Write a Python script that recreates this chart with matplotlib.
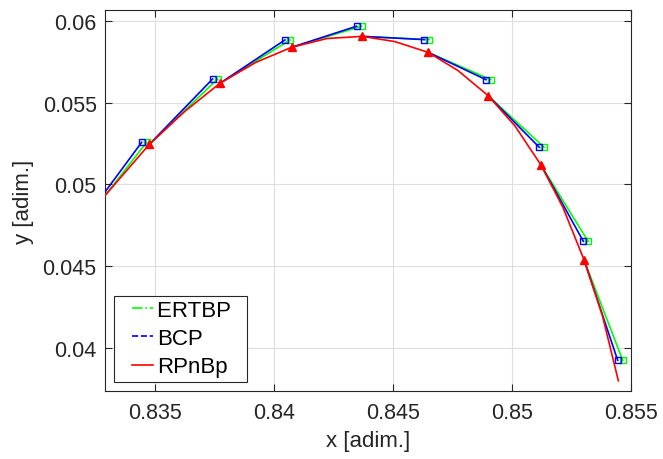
import matplotlib

matplotlib.use("Agg")
import numpy as np
from matplotlib import pyplot as plt
from matplotlib.legend_handler import HandlerLine2D
from matplotlib.lines import Line2D

# RPnBp reference trajectory (smooth curve); triangles sit on the odd indices
red_x = [0.83290, 0.83476, 0.83626, 0.83773, 0.83924, 0.84074, 0.84223, 0.84371, 0.84508,
         0.84648, 0.84773, 0.84900, 0.85013, 0.85121, 0.85214, 0.85303, 0.85380, 0.85447]
red_y = [0.04932, 0.05245, 0.05448, 0.05619, 0.05747, 0.05839, 0.05893, 0.05906, 0.05874,
         0.05808, 0.05697, 0.05543, 0.05357, 0.05121, 0.04860, 0.04538, 0.04198, 0.03799]

# patch points (triangles) where each BCP / ERTBP arc restarts
knot_x = [0.83476, 0.83773, 0.84074, 0.84371, 0.84648, 0.84900, 0.85121, 0.85303]
knot_y = [0.05245, 0.05619, 0.05839, 0.05906, 0.05808, 0.05543, 0.05121, 0.04538]

# arc end points
bcp_start = (0.83290, 0.04954)
bcp_x = [0.83444, 0.83742, 0.84046, 0.84347, 0.84632, 0.84891, 0.85115, 0.85300, 0.85444]
bcp_y = [0.05258, 0.05645, 0.05884, 0.05968, 0.05886, 0.05641, 0.05227, 0.04652, 0.03925]

ertbp_start = (0.83290, 0.04932)
ertbp_x = [0.83465, 0.83763, 0.84067, 0.84368, 0.84652, 0.84911, 0.85135, 0.85320, 0.85465]
ertbp_y = [0.05258, 0.05645, 0.05884, 0.05968, 0.05886, 0.05641, 0.05227, 0.04652, 0.03925]

x_ticks = [0.835, 0.84, 0.845, 0.85, 0.855]
x_tick_labels = ["0.835", "0.84", "0.845", "0.85", "0.855"]
y_ticks = [0.04, 0.045, 0.05, 0.055, 0.06]
y_tick_labels = ["0.04", "0.045", "0.05", "0.055", "0.06"]

TEXT = "#262626"


class ShortHandle(HandlerLine2D):
    # MATLAB-like legend: short line sitting at the right of the handle box
    def create_artists(self, legend, orig_handle, xdescent, ydescent, width, height,
                       fontsize, trans):
        artists = super().create_artists(legend, orig_handle, xdescent, ydescent,
                                         width, height, fontsize, trans)
        for a in artists:
            xd = np.asarray(a.get_xdata(), dtype=float)
            if len(xd) >= 2:
                x0 = xd[0] + 0.4 * (xd[-1] - xd[0])
                a.set_xdata(np.linspace(x0, xd[-1], len(xd)))
        return artists


def draw_arcs(ax, start, end_x, end_y, color):
    starts = [start] + list(zip(knot_x, knot_y))
    for (x0, y0), x1, y1 in zip(starts, end_x, end_y):
        ax.plot([x0, x1], [y0, y1], color=color, lw=1.2, zorder=3)
        ax.plot(x1, y1, marker="s", ms=4, mfc="none", mec=color, mew=1.0, zorder=4)


def main():
    plt.rcParams["font.family"] = ["Liberation Sans", "DejaVu Sans"]
    fig = plt.figure(figsize=(6.63, 4.60), dpi=100)
    ax = fig.add_axes([0.1584, 0.148, 0.7933, 0.828])

    draw_arcs(ax, ertbp_start, ertbp_x, ertbp_y, (0, 1, 0))
    draw_arcs(ax, bcp_start, bcp_x, bcp_y, (0, 0, 1))
    ax.plot(red_x, red_y, color=(1, 0, 0), lw=1.2, zorder=5,
            marker="^", ms=6, markevery=list(range(1, 16, 2)))

    ax.set_xlim(0.8329, 0.855)
    ax.set_ylim(0.03737, 0.06067)
    ax.set_xticks(x_ticks, x_tick_labels)
    ax.set_yticks(y_ticks, y_tick_labels)
    ax.tick_params(direction="in", length=5, width=0.8, top=True, right=True,
                   labelsize=15.5, colors=TEXT)
    ax.tick_params(axis="x", pad=8)
    ax.tick_params(axis="y", pad=6)
    for spine in ax.spines.values():
        spine.set_color(TEXT)
        spine.set_linewidth(0.8)
    ax.grid(True, color="#dedede", lw=0.8)
    ax.set_axisbelow(True)

    ax.set_xlabel("x [adim.]", fontsize=16, color=TEXT, labelpad=5)
    ax.set_ylabel("y [adim.]", fontsize=16, color=TEXT, labelpad=6)

    handles = [
        Line2D([], [], color=(0, 1, 0), lw=1.2, ls="-."),
        Line2D([], [], color=(0, 0, 1), lw=1.2, ls="--"),
        Line2D([], [], color=(1, 0, 0), lw=1.2, ls="-"),
    ]
    leg = ax.legend(handles, ["ERTBP  ", "BCP", "RPnBp"], loc="lower left",
                    bbox_to_anchor=(0.017, 0.024), borderaxespad=0, fontsize=16,
                    handlelength=1.56, handletextpad=0.18, labelspacing=0.32,
                    borderpad=0.2, fancybox=False, framealpha=1, edgecolor=TEXT,
                    handler_map={Line2D: ShortHandle()})
    leg.get_frame().set_linewidth(0.8)

    fig.savefig("out.png", dpi=100)


if __name__ == "__main__":
    main()
